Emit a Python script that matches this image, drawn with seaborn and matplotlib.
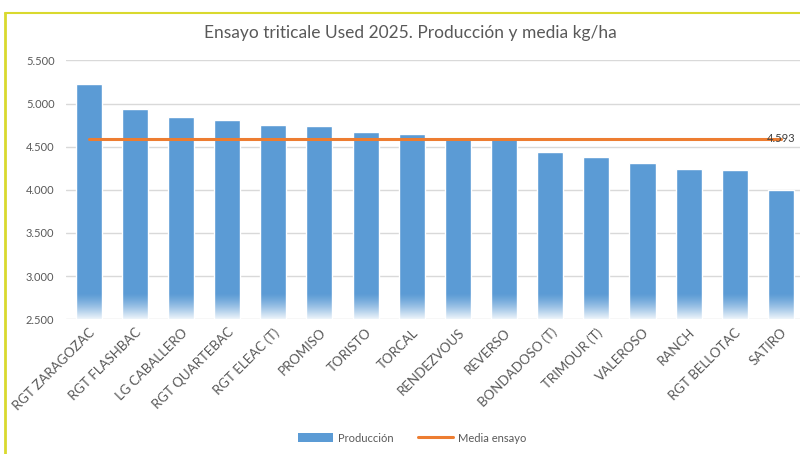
import numpy as np
import matplotlib
matplotlib.use("Agg")
import matplotlib.pyplot as plt
import seaborn as sns
from matplotlib.patches import Patch
from matplotlib.lines import Line2D
from matplotlib.ticker import FuncFormatter

variedades = [
    "RGT ZARAGOZAC", "RGT FLASHBAC", "LG CABALLERO", "RGT QUARTEBAC",
    "RGT ELEAC (T)", "PROMISO", "TORISTO", "TORCAL", "RENDEZVOUS",
    "REVERSO", "BONDADOSO (T)", "TRIMOUR (T)", "VALEROSO", "RANCH",
    "RGT BELLOTAC", "SATIRO",
]
produccion = [5225, 4935, 4845, 4805, 4752, 4740, 4672, 4648, 4590,
              4586, 4436, 4375, 4308, 4238, 4226, 3992]
media_ensayo = 4593
y_ticks = [2500, 3000, 3500, 4000, 4500, 5000, 5500]

azul = "#5B9BD5"
naranja = "#ED7D31"
gris = "#595959"

sns.set_theme(style="white")
plt.rcParams["font.family"] = ["Lato", "DejaVu Sans"]

fig = plt.figure(figsize=(8, 4.54), dpi=100)
ax = fig.add_axes([0.082, 0.297, 0.923, 0.570])

x = np.arange(len(variedades))
sns.barplot(x=x, y=produccion, color=azul, saturation=1, width=0.565,
            ax=ax, zorder=2)

# bottom fade of the bars (transparent at the top, almost white at the base)
fade = np.ones((128, 2, 4))
fade[:, :, 3] = (np.linspace(0, 1, 128) ** 1.3 * 0.9)[:, None]
for bar in list(ax.patches):
    im = ax.imshow(fade, extent=[bar.get_x(), bar.get_x() + bar.get_width(), 2500, 2800],
                   origin="upper", aspect="auto", zorder=3, interpolation="bilinear")
    im.set_clip_path(bar)

sns.lineplot(x=x, y=np.full(len(x), media_ensayo), color=naranja, lw=2.2,
             ax=ax, zorder=4)
ax.text(x[-1], media_ensayo, f"{media_ensayo:,}".replace(",", "."),
        ha="center", va="center", fontsize=8, color="#404040", zorder=5)

ax.set_xlim(-0.5, len(x) - 0.5)
ax.set_ylim(2500, 5500)
ax.set_yticks(y_ticks)
ax.yaxis.set_major_formatter(FuncFormatter(lambda v, p: f"{int(v):,}".replace(",", ".")))
ax.grid(axis="y", color="#D9D9D9", lw=1, zorder=0)
ax.set_axisbelow(True)
for s in ax.spines.values():
    s.set_visible(False)
ax.tick_params(axis="y", colors=gris, labelsize=8, length=0, pad=8)
ax.tick_params(axis="x", length=0, pad=5)
ax.set_xticks(x)
ax.set_xticklabels(variedades, rotation=45, ha="right", rotation_mode="anchor",
                   fontsize=9.5, color=gris)

fig.text(0.513, 0.927, "Ensayo triticale Used 2025. Producción y media kg/ha",
         ha="center", va="center", fontsize=12.5, color=gris)

handles = [Patch(facecolor=azul, edgecolor="none", label="Producción"),
           Line2D([0], [0], color=naranja, lw=2.2, label="Media ensayo")]
fig.legend(handles=handles, loc="center", bbox_to_anchor=(0.515, 0.035), ncol=2,
           frameon=False, fontsize=8, handlelength=3.2, handleheight=0.9,
           columnspacing=2.2, handletextpad=0.4, labelcolor=gris)

# yellow frame of the chart
fig.add_artist(Line2D([0.0065, 0.0065], [0, 0.971], color="#D9D92E", lw=2,
                      transform=fig.transFigure))
fig.add_artist(Line2D([0.0065, 1], [0.971, 0.971], color="#D9D92E", lw=1.5,
                      transform=fig.transFigure))

fig.savefig("out.png", dpi=100, facecolor="white")
